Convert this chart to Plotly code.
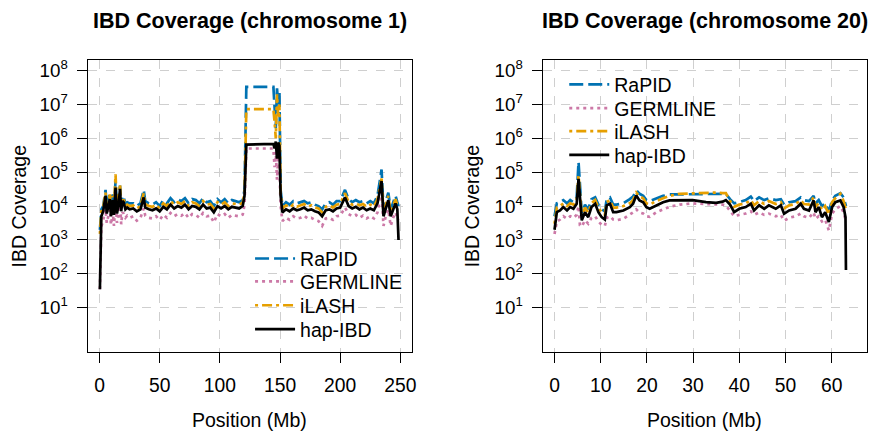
import plotly.graph_objects as go

# ---------------- data: chromosome 1 ----------------
pos1 = [0.3, 0.8, 1.5, 3, 5, 6, 7.5, 8.6, 9.5, 11, 12, 13.3, 14.5, 16, 17, 18, 19, 20, 21.5, 23,
        25, 28, 31, 34, 36.7, 38, 41, 44, 47, 50, 53, 56, 59, 62, 65, 68, 71, 74, 77, 80,
        83, 86, 89, 92, 95, 98, 101, 104, 107, 110, 113, 116, 119, 120.5, 122, 130, 140, 144.5, 145.5, 146.5,
        147.5, 148.5, 149.5, 150.5, 152, 155, 158, 161, 164, 167, 170, 173, 176, 179, 182, 185, 188, 191, 194, 197,
        200, 204, 207, 210, 213, 216, 219, 222, 225, 228, 231, 234.4, 236, 238, 240, 242, 244, 246, 247.5, 248.5]

hap1 = [35, 1500, 5000, 7000, 2.0e4, 6000, 1.2e4, 1.6e4, 5000, 1.5e4, 5500, 3.5e4, 6000, 1.2e4, 3.2e4, 7000, 1.4e4, 1.3e4, 8000, 9000,
        8000, 8500, 7000, 8000, 1.8e4, 9000, 8000, 7500, 8500, 7000, 9500, 8000, 1.1e4, 8500, 1.0e4, 9000, 1.1e4, 8000, 1.0e4, 9500,
        8000, 1.1e4, 8500, 9000, 6500, 1.0e4, 8500, 1.0e4, 8000, 9500, 9000, 8500, 1.0e4, 2.0e4, 6.5e5, 6.5e5, 6.5e5, 6.8e5, 5.0e5, 8.0e5,
        2.5e5, 7.5e5, 6.0e5, 2.0e4, 6500, 8000, 7000, 8500, 7500, 8000, 9000, 7500, 8000, 7000, 6500, 5000, 7500, 8000, 7000, 8500,
        9000, 1.8e4, 1.0e4, 8500, 9500, 8000, 9000, 7500, 8500, 7500, 1.2e4, 5.5e4, 5000, 9000, 1.5e4, 5000, 8000, 1.2e4, 8000, 1000]

rapid1 = [2000, 5000, 8000, 1.0e4, 3.0e4, 9000, 1.8e4, 2.5e4, 8000, 2.2e4, 9000, 5.5e4, 9000, 1.8e4, 4.0e4, 1.0e4, 2.0e4, 1.8e4, 1.2e4, 1.3e4,
          1.2e4, 1.2e4, 1.0e4, 1.2e4, 3.0e4, 1.4e4, 1.2e4, 1.1e4, 1.3e4, 1.0e4, 1.5e4, 1.2e4, 1.7e4, 1.3e4, 1.6e4, 1.4e4, 1.7e4, 1.2e4, 1.6e4, 1.5e4,
          1.2e4, 1.7e4, 1.3e4, 1.4e4, 1.0e4, 1.6e4, 1.3e4, 1.6e4, 1.2e4, 1.5e4, 1.4e4, 1.3e4, 1.5e4, 3.0e4, 3.3e7, 3.3e7, 3.3e7, 3.3e7, 8.0e6, 2.0e6,
          3.0e7, 1.0e7, 2.5e7, 3.0e4, 1.0e4, 1.3e4, 1.1e4, 1.4e4, 1.2e4, 1.3e4, 1.4e4, 1.2e4, 1.3e4, 1.1e4, 1.0e4, 8000, 1.2e4, 1.3e4, 1.1e4, 1.4e4,
          1.4e4, 3.0e4, 1.6e4, 1.3e4, 1.5e4, 1.3e4, 1.4e4, 1.2e4, 1.4e4, 1.2e4, 2.0e4, 1.2e5, 8000, 1.4e4, 2.5e4, 8000, 1.3e4, 2.0e4, 1.3e4, 1.0e4]

ilash1 = [1500, 4000, 7000, 9000, 2.5e4, 8000, 1.5e4, 2.2e4, 7000, 2.0e4, 8000, 8.6e4, 8000, 1.6e4, 4.5e4, 9000, 1.8e4, 1.6e4, 1.0e4, 1.1e4,
          1.0e4, 1.05e4, 8500, 1.0e4, 2.4e4, 1.15e4, 1.0e4, 9500, 1.1e4, 8500, 1.2e4, 1.0e4, 1.4e4, 1.1e4, 1.3e4, 1.15e4, 1.4e4, 1.0e4, 1.3e4, 1.2e4,
          1.0e4, 1.4e4, 1.1e4, 1.15e4, 8500, 1.3e4, 1.1e4, 1.3e4, 1.0e4, 1.2e4, 1.15e4, 1.1e4, 1.25e4, 2.5e4, 7.3e6, 7.3e6, 7.3e6, 7.3e6, 3.0e6, 1.0e6,
          2.0e7, 4.0e6, 1.0e7, 2.5e4, 8500, 1.05e4, 9000, 1.1e4, 9500, 1.05e4, 1.15e4, 9500, 1.05e4, 9000, 8500, 6500, 9500, 1.05e4, 9000, 1.1e4,
          1.15e4, 2.4e4, 1.3e4, 1.1e4, 1.2e4, 1.05e4, 1.15e4, 9500, 1.1e4, 9500, 1.6e4, 6.5e4, 6500, 1.15e4, 2.0e4, 6500, 1.05e4, 1.6e4, 1.05e4, 9000]

germ1 = [35, 1000, 2500, 3800, 8000, 3200, 6000, 8000, 2800, 6500, 2600, 1.5e4, 3200, 6000, 1.3e4, 2900, 6500, 6000, 4500, 5200,
         4500, 5000, 3700, 4500, 8500, 5200, 4500, 4300, 5000, 3900, 5500, 4500, 6200, 5000, 5800, 5200, 6200, 4500, 5800, 5500,
         4500, 6200, 5000, 5200, 3300, 5800, 5000, 5800, 4500, 5500, 5200, 5000, 5600, 1.1e4, 5.0e5, 5.0e5, 5.0e5, 5.0e5, 1.4e5, 4.0e5,
         6.0e4, 3.0e5, 1.5e5, 1.0e4, 3600, 4500, 3900, 5000, 4300, 4500, 5200, 4300, 4500, 3900, 3600, 2600, 4300, 4500, 3900, 5000,
         5200, 9000, 5800, 5000, 5500, 4500, 5200, 4300, 5000, 4300, 6500, 2.6e4, 2600, 5200, 7800, 2600, 4500, 6500, 4500, 3900]

# ---------------- data: chromosome 20 ----------------
pos20 = [0, 0.5, 1.2, 1.9, 2.7, 3.4, 4.1, 4.8, 5.2, 5.5, 5.9, 6.6, 7.3, 8.0, 8.8, 9.5, 10.2, 10.9, 11.3, 12.0,
         12.7, 13.4, 14.9, 16.3, 17.0, 17.7, 18.4, 19.2, 19.9, 20.6, 22.0, 23.5, 24.9, 27.1, 29.9, 32.8, 35.0, 36.4, 37.1, 38.0,
         38.9, 40.0, 41.4, 42.5, 43.2, 44.3, 45.4, 46.4, 47.9, 49.0, 49.7, 50.8, 52.2, 53.3, 54.0, 55.1, 56.1, 56.5, 57.2, 57.9,
         58.6, 59.4, 60.1, 60.8, 61.9, 62.6, 63.0, 63.1]

hap20 = [2000, 6600, 7400, 9300, 7400, 9300, 8300, 1.17e4, 6.4e4, 2.3e4, 3800, 6600, 4700, 9300, 1.17e4, 6600, 4700, 4000, 1.05e4, 1.17e4,
         6600, 6600, 7400, 9300, 1.17e4, 2.06e4, 1.47e4, 1.3e4, 9300, 8300, 1.05e4, 1.3e4, 1.47e4, 1.5e4, 1.5e4, 1.3e4, 1.25e4, 1.35e4, 1.5e4, 1.1e4,
         6600, 8300, 9300, 1.17e4, 7400, 1.05e4, 8300, 1.05e4, 8300, 1.05e4, 5900, 7400, 8300, 1.17e4, 8300, 7400, 1.47e4, 6600, 9300, 4700,
         6600, 3400, 9300, 1.3e4, 1.47e4, 9300, 4700, 130]

rapid20 = [5000, 1.2e4, 1.3e4, 1.5e4, 1.2e4, 1.5e4, 1.3e4, 1.8e4, 2.0e5, 4.0e4, 6000, 1.1e4, 8000, 1.6e4, 1.8e4, 1.1e4, 8000, 7000, 1.6e4, 1.8e4,
           1.1e4, 1.1e4, 1.2e4, 1.6e4, 1.9e4, 2.9e4, 2.3e4, 2.0e4, 1.5e4, 1.4e4, 1.7e4, 2.0e4, 2.2e4, 2.2e4, 2.3e4, 2.3e4, 2.3e4, 2.2e4, 2.3e4, 1.6e4,
           1.2e4, 1.3e4, 1.5e4, 1.9e4, 1.4e4, 1.8e4, 1.5e4, 1.7e4, 1.5e4, 1.6e4, 1.1e4, 1.3e4, 1.4e4, 1.8e4, 1.5e4, 1.4e4, 2.0e4, 1.2e4, 1.5e4, 1.0e4,
           1.2e4, 7000, 1.5e4, 2.0e4, 2.4e4, 1.8e4, 1.2e4, 1.0e4]

ilash20 = [3000, 9000, 1.0e4, 1.2e4, 1.0e4, 1.2e4, 1.1e4, 1.5e4, 8.0e4, 3.0e4, 5000, 9000, 6500, 1.2e4, 1.5e4, 9000, 6500, 5500, 1.3e4, 1.5e4,
           9000, 9000, 1.0e4, 1.2e4, 1.5e4, 2.5e4, 1.9e4, 1.7e4, 1.2e4, 1.1e4, 1.4e4, 1.7e4, 2.0e4, 2.3e4, 2.4e4, 2.4e4, 2.5e4, 2.4e4, 2.4e4, 1.4e4,
           9500, 1.1e4, 1.2e4, 1.5e4, 1.05e4, 1.4e4, 1.15e4, 1.4e4, 1.15e4, 1.3e4, 8500, 1.05e4, 1.15e4, 1.5e4, 1.15e4, 1.1e4, 1.8e4, 9500, 1.2e4, 7500,
           1.0e4, 5500, 1.3e4, 1.7e4, 2.3e4, 1.4e4, 9000, 8000]

germ20 = [1500, 3500, 4000, 5000, 4200, 5000, 4500, 5500, 1.0e4, 2700, 2500, 3800, 3000, 4500, 5000, 3500, 2800, 2600, 4500, 5000,
          4000, 3800, 4200, 5500, 6500, 8000, 6500, 6000, 5000, 4800, 6500, 8000, 9500, 1.1e4, 1.2e4, 1.15e4, 1.15e4, 1.1e4, 1.05e4, 7000,
          5000, 5500, 6000, 7000, 5500, 6500, 5500, 6000, 5000, 5500, 3700, 4500, 5000, 6000, 5000, 4500, 6500, 4200, 5000, 3500,
          4000, 1900, 6000, 8000, 1.0e4, 6500, 4000, 3500]

methods = ["RaPID", "GERMLINE", "iLASH", "hap-IBD"]
colors = ["#0072B2", "#CC79A7", "#E69F00", "#000000"]
dashes = ["14px,5px", "3px,4px", "3px,4px,10px,4px", "solid"]

x1_ticks = [0, 50, 100, 150, 200, 250]
x20_ticks = [0, 10, 20, 30, 40, 50, 60]
y_tickvals = [1e1, 1e2, 1e3, 1e4, 1e5, 1e6, 1e7, 1e8]
y_ticktext = ["10<sup>%d</sup>" % k for k in range(1, 9)]

FONT = "Liberation Sans, Arial, Helvetica, sans-serif"

# one legend box per entry so that rows sit where the reference puts them
legend_rows_left = [258, 281, 305, 329]   # px from top
legend_rows_right = [83, 107, 130, 154]
legend_x_left = 251.5                      # px from left
legend_x_right = 567.5

fig = go.Figure()

series1 = [rapid1, germ1, ilash1, hap1]
series20 = [rapid20, germ20, ilash20, hap20]
legend_layout = {}
k = 1
for name, col, dsh, ys, row in zip(methods, colors, dashes, series1, legend_rows_left):
    lid = "legend" if k == 1 else "legend%d" % k
    fig.add_trace(go.Scatter(x=pos1, y=ys, mode="lines", name=name,
                             line=dict(color=col, width=2.7, dash=dsh),
                             xaxis="x", yaxis="y", legend=lid))
    legend_layout[lid] = dict(x=legend_x_left / 874, y=1 - row / 435, xanchor="left", yanchor="middle",
                              bgcolor="rgba(0,0,0,0)", font=dict(family=FONT, size=19.5), itemwidth=40)
    k += 1
for name, col, dsh, ys, row in zip(methods, colors, dashes, series20, legend_rows_right):
    lid = "legend%d" % k
    fig.add_trace(go.Scatter(x=pos20, y=ys, mode="lines", name=name,
                             line=dict(color=col, width=2.7, dash=dsh),
                             xaxis="x2", yaxis="y2", legend=lid))
    legend_layout[lid] = dict(x=legend_x_right / 874, y=1 - row / 435, xanchor="left", yanchor="middle",
                              bgcolor="rgba(0,0,0,0)", font=dict(family=FONT, size=19.5), itemwidth=40)
    k += 1

common_axis = dict(showline=True, mirror=True, linecolor="black", linewidth=1,
                   ticks="outside", ticklen=10, tickcolor="black", tickwidth=1,
                   showgrid=True, gridcolor="#CFCFCF", griddash="dash", gridwidth=1,
                   zeroline=False)
xtickfont = dict(family=FONT, size=19.3, color="black")
ytickfont = dict(family=FONT, size=18.8, color="black")

ydom = [0.1908, 0.8667]
fig.update_layout(
    width=874, height=435,
    margin=dict(l=0, r=0, t=0, b=0),
    paper_bgcolor="white", plot_bgcolor="white",
    font=dict(family=FONT, size=19.5, color="black"),
    xaxis=dict(domain=[0.1007, 0.4737], range=[-10, 259.4], tickmode="array",
               tickvals=x1_ticks, anchor="y", ticklabelstandoff=5, tickfont=xtickfont, **common_axis),
    yaxis=dict(domain=ydom, type="log", range=[-0.32, 8.32], tickmode="array",
               tickvals=y_tickvals, ticktext=y_ticktext, anchor="x", ticklabelstandoff=5,
               tickfont=ytickfont, **common_axis),
    xaxis2=dict(domain=[0.6244, 0.9974], range=[-2.58, 67.6], tickmode="array",
                tickvals=x20_ticks, anchor="y2", ticklabelstandoff=5, tickfont=xtickfont, **common_axis),
    yaxis2=dict(domain=ydom, type="log", range=[-0.32, 8.32], tickmode="array",
                tickvals=y_tickvals, ticktext=y_ticktext, anchor="x2", ticklabelstandoff=5,
                tickfont=ytickfont, **common_axis),
    showlegend=True,
    **legend_layout,
)

annots = [
    dict(text="<b>IBD Coverage (chromosome 1)</b>", x=0.2872, y=1 - 19 / 435, font=dict(size=21.5)),
    dict(text="<b>IBD Coverage (chromosome 20)</b>", x=0.8109, y=1 - 19 / 435, font=dict(size=21.5)),
    dict(text="Position (Mb)", x=0.2872, y=1 - 420 / 435, font=dict(size=19.5)),
    dict(text="Position (Mb)", x=0.8109, y=1 - 420 / 435, font=dict(size=19.5)),
    dict(text="IBD Coverage", x=19.5 / 874, y=1 - 205 / 435, textangle=-90, font=dict(size=19.5)),
    dict(text="IBD Coverage", x=475 / 874, y=1 - 205 / 435, textangle=-90, font=dict(size=19.5)),
]
for a in annots:
    a.update(xref="paper", yref="paper", showarrow=False, xanchor="center", yanchor="middle")
    a["font"]["family"] = FONT
    a["font"]["color"] = "black"
fig.update_layout(annotations=annots)

fig.write_html("out.html", config={"displayModeBar": False},
               post_script="document.body.style.margin='0px';")
